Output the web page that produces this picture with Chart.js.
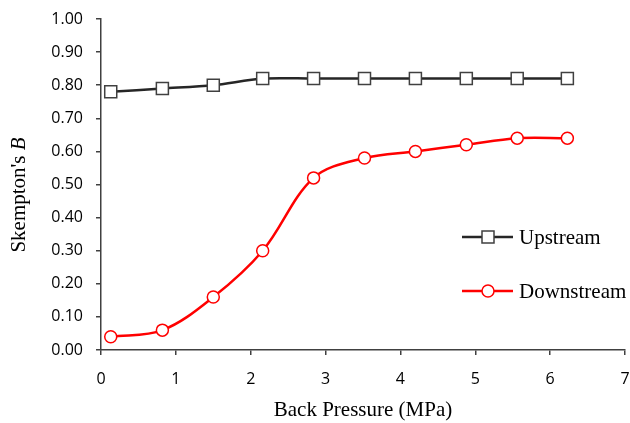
<!DOCTYPE html>
<html>
<head>
<meta charset="utf-8">
<script src="https://cdn.jsdelivr.net/npm/chart.js@4.4.1/dist/chart.umd.min.js"></script>
<style>
  html, body { margin: 0; padding: 0; background: #fff; overflow: hidden; }
  #wrap { width: 630px; height: 423px; overflow: hidden; }
</style>
</head>
<body>
<!-- canvas is 5px wider than the window: Chart.js keeps ~10px right margin for the "7" label -->
<div id="wrap"><canvas id="chart" width="635" height="423"></canvas></div>
<script>
// Back pressure (MPa) and Skempton's B readings
const backPressure = [0.13, 0.82, 1.50, 2.16, 2.84, 3.52, 4.20, 4.88, 5.56, 6.23];
const upstream = [0.78, 0.79, 0.80, 0.82, 0.82, 0.82, 0.82, 0.82, 0.82, 0.82];
const downstream = [0.04, 0.06, 0.16, 0.30, 0.52, 0.58, 0.60, 0.62, 0.64, 0.64];
const seriesNames = ["Upstream", "Downstream"];
const xTitle = "Back Pressure (MPa)";

const serif = "'Liberation Serif', 'Times New Roman', serif";
const sans = "'Open Sans', 'Liberation Sans', sans-serif";

function toPoints(ys) {
  return backPressure.map((x, i) => ({ x: x, y: ys[i] }));
}

// axis titles + legend drawn by hand (italic B, legend inside plot)
const extras = {
  id: "extras",
  afterDraw(chart) {
    const ctx = chart.ctx;
    ctx.save();
    ctx.fillStyle = "#000";

    // x title
    ctx.font = "21px " + serif;
    ctx.textAlign = "center";
    ctx.textBaseline = "middle";
    ctx.fillText(xTitle, 363, 410);

    // y title: "Skempton's " + italic "B"
    ctx.save();
    ctx.translate(19, 195);
    ctx.rotate(-Math.PI / 2);
    ctx.textAlign = "left";
    ctx.font = "21px " + serif;
    const part1 = "Skempton's ";
    const w1 = ctx.measureText(part1).width;
    ctx.font = "italic 21px " + serif;
    const w2 = ctx.measureText("B").width;
    const start = -(w1 + w2) / 2;
    ctx.font = "21px " + serif;
    ctx.fillText(part1, start, 0);
    ctx.font = "italic 21px " + serif;
    ctx.fillText("B", start + w1, 0);
    ctx.restore();

    // legend
    const rows = [
      { y: 237, color: "#262626", edge: "#404040", shape: "rect" },
      { y: 291, color: "#ff0000", edge: "#ff0000", shape: "circle" }
    ];
    rows.forEach((r, i) => {
      ctx.strokeStyle = r.color;
      ctx.lineWidth = 2.5;
      ctx.beginPath();
      ctx.moveTo(462, r.y);
      ctx.lineTo(513, r.y);
      ctx.stroke();
      ctx.fillStyle = "#fff";
      ctx.strokeStyle = r.edge;
      ctx.lineWidth = 1.5;
      ctx.beginPath();
      if (r.shape === "rect") {
        ctx.rect(482, r.y - 6, 12, 12);
      } else {
        ctx.arc(488, r.y, 6, 0, Math.PI * 2);
      }
      ctx.fill();
      ctx.stroke();
      ctx.fillStyle = "#000";
      ctx.font = "21px " + serif;
      ctx.textAlign = "left";
      ctx.textBaseline = "middle";
      ctx.fillText(seriesNames[i], 519, r.y + 1);
    });
    ctx.restore();
  }
};

new Chart(document.getElementById("chart"), {
  type: "line",
  data: {
    datasets: [
      {
        label: seriesNames[0],
        data: toPoints(upstream),
        borderColor: "#262626",
        borderWidth: 2.5,
        tension: 0.3,
        pointStyle: "rect",
        pointRadius: 8.5,
        pointBorderWidth: 1.5,
        pointBorderColor: "#404040",
        pointBackgroundColor: "#fff"
      },
      {
        label: seriesNames[1],
        data: toPoints(downstream),
        borderColor: "#ff0000",
        borderWidth: 2.5,
        tension: 0.35,
        pointStyle: "circle",
        pointRadius: 6,
        pointBorderWidth: 1.5,
        pointBorderColor: "#ff0000",
        pointBackgroundColor: "#fff"
      }
    ]
  },
  options: {
    responsive: false,
    animation: false,
    clip: false,
    layout: { padding: { left: 0, right: 0, top: 19, bottom: 0 } },
    plugins: {
      legend: { display: false },
      tooltip: { enabled: false }
    },
    scales: {
      x: {
        type: "linear",
        min: 0,
        max: 7,
        afterFit: s => { s.height = 73; s.paddingLeft = 0; s.paddingRight = 0; },
        ticks: { stepSize: 1, padding: 15, color: "#000", font: { family: sans, size: 16 } },
        grid: { drawOnChartArea: false, drawTicks: true, tickLength: 5, color: "#404040", lineWidth: 1.5 },
        border: { display: true, color: "#404040", width: 1.5 }
      },
      y: {
        min: 0,
        max: 1,
        afterFit: s => { s.width = 101; s.paddingTop = 0; s.paddingBottom = 0; },
        ticks: {
          stepSize: 0.1,
          padding: 13,
          color: "#000",
          font: { family: sans, size: 16 },
          callback: v => v.toFixed(2)
        },
        grid: { drawOnChartArea: false, drawTicks: true, tickLength: 5, color: "#404040", lineWidth: 1.5 },
        border: { display: true, color: "#404040", width: 1.5 }
      }
    }
  },
  plugins: [extras]
});
</script>
</body>
</html>
